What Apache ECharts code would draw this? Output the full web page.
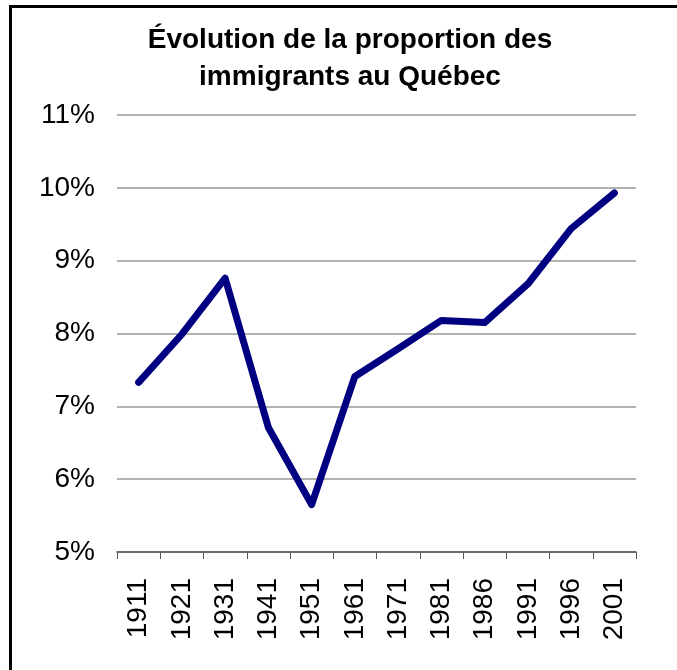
<!DOCTYPE html>
<html>
<head>
<meta charset="utf-8">
<script src="https://cdn.jsdelivr.net/npm/echarts@6/dist/echarts.min.js"></script>
<style>
    html, body { margin: 0; padding: 0; background: #fff; overflow: hidden; }
    #main { width: 677px; height: 670px; position: relative; }
    .cadre {
        position: absolute; left: 9px; top: 5px; width: 700px; height: 700px;
        border-top: 3px solid #000; border-left: 3px solid #000;
        pointer-events: none;
    }
</style>
</head>
<body>
<div id="main"></div>
<div class="cadre"></div>
<script>
// recensements
var annees = ['1911', '1921', '1931', '1941', '1951', '1961', '1971', '1981', '1986', '1991', '1996', '2001'];
// proportion d'immigrants (%)
var proportion = [7.33, 7.99, 8.76, 6.71, 5.65, 7.41, 7.79, 8.18, 8.15, 8.68, 9.44, 9.93];

var chartDom = document.getElementById('main');
var myChart = echarts.init(chartDom);
var option;

option = {
    animation: false,
    title: {
        text: 'Évolution de la proportion des\nimmigrants au Québec',
        left: 345,
        textAlign: 'center',
        top: 17,
        textStyle: {
            fontFamily: 'Liberation Sans, Arial',
            fontSize: 28,
            fontWeight: 'bold',
            color: '#000',
            lineHeight: 37
        }
    },
    grid: {
        left: 117,
        right: 41,
        top: 115,
        bottom: 118
    },
    xAxis: {
        type: 'category',
        data: annees,
        boundaryGap: true,
        axisLine: { lineStyle: { color: '#555', width: 1.5 } },
        axisTick: { show: true, alignWithLabel: false, length: 7, lineStyle: { color: '#555' } },
        axisLabel: {
            rotate: 90,
            margin: 26,
            fontFamily: 'Liberation Sans, Arial',
            fontSize: 28,
            color: '#000'
        }
    },
    yAxis: {
        type: 'value',
        min: 5,
        max: 11,
        interval: 1,
        axisLine: { show: false },
        axisTick: { show: false },
        axisLabel: {
            formatter: '{value}%',
            margin: 22,
            fontFamily: 'Liberation Sans, Arial',
            fontSize: 28,
            color: '#000'
        },
        splitLine: { lineStyle: { color: '#999', width: 1.5 } }
    },
    series: [
        {
            type: 'line',
            data: proportion,
            showSymbol: false,
            symbol: 'none',
            lineStyle: { color: '#000080', width: 7, cap: 'round', join: 'round' }
        }
    ]
};
myChart.setOption(option);
</script>
</body>
</html>
